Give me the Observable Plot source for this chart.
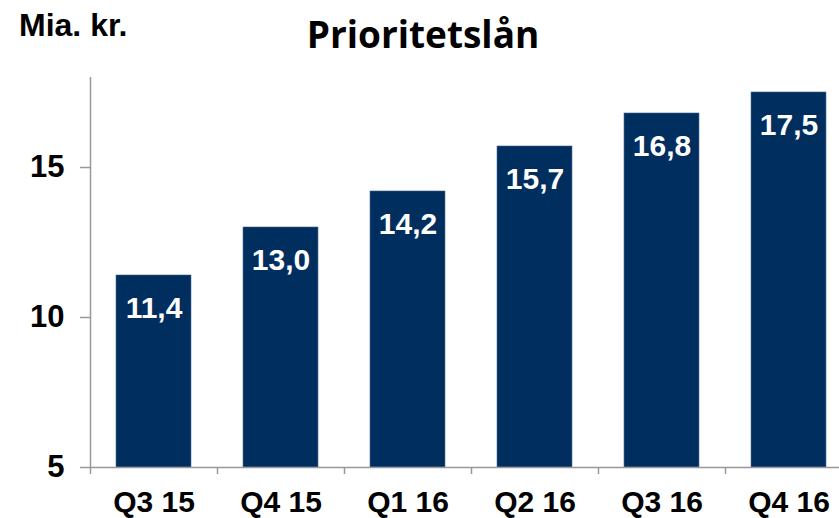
<!DOCTYPE html>
<html>
<head>
<meta charset="utf-8">
<script src="https://cdn.jsdelivr.net/npm/d3@7"></script>
<script src="https://cdn.jsdelivr.net/npm/@observablehq/plot@0.6"></script>
<style>
  html, body { margin: 0; padding: 0; background: #fff; }
  #wrap { position: relative; width: 839px; height: 518px; overflow: hidden; }
  #title { position: absolute; left: 0; width: 846px; top: 15px; text-align: center; line-height: 1;
           font-family: "Open Sans", Lato, sans-serif; font-weight: 700; font-size: 37px; color: #000; }
  #unit { position: absolute; left: 19px; top: 9px; line-height: 1;
          font-family: "Liberation Sans", Arial, sans-serif; font-weight: 700; font-size: 32px; color: #000; }
  svg { display: block; }
</style>
</head>
<body>
<div id="wrap">
  <div id="chart"></div>
  <div id="title">Prioritetslån</div>
  <div id="unit">Mia. kr.</div>
</div>
<script>
const quarters = ["Q3 15", "Q4 15", "Q1 16", "Q2 16", "Q3 16", "Q4 16"];
const values = [11.4, 13.0, 14.2, 15.7, 16.8, 17.5];
const yTicks = [5, 10, 15];

const data = quarters.map((q, i) => ({q, i, v: values[i]}));
const fmt = v => v.toFixed(1).replace(".", ",");
const font = '"Liberation Sans", Arial, sans-serif';
const pad = 0.205;

const chart = Plot.plot({
  width: 839,
  height: 518,
  marginLeft: 90,
  marginRight: 0,
  marginTop: 77,
  marginBottom: 51,
  style: {fontFamily: font, color: "#000", background: "#fff"},
  x: {type: "linear", domain: [0, 6], range: [90, 852], axis: null},
  y: {domain: [5, 18], range: [467, 77], axis: null},
  marks: [
    Plot.rectY(data, {x1: d => d.i + pad, x2: d => d.i + 1 - pad, y1: 5, y2: "v", fill: "#002E5E", stroke: "#3a5f8c", strokeWidth: 0.6}),
    Plot.ruleX([0], {y1: 5, y2: 18, stroke: "#999", strokeWidth: 1.5}),
    Plot.ruleY([5], {stroke: "#999", strokeWidth: 1.5}),
    Plot.axisY({ticks: yTicks, label: null, tickSize: 10, tickPadding: 16, fontSize: 31, fontWeight: "bold", stroke: "#999", strokeWidth: 1.5, tickFormat: d => String(d), color: "#000"}),
    Plot.axisX({ticks: d3.range(0, 7), label: null, tickSize: 7, tickFormat: () => "", stroke: "#999", strokeWidth: 1.5}),
    Plot.axisX({ticks: quarters.map((q, i) => i + 0.5), label: null, tickSize: 0, tickPadding: 23, fontSize: 30, fontWeight: "bold", tickFormat: d => quarters[Math.round(d - 0.5)]}),
    Plot.text(data, {x: d => d.i + 0.5, y: "v", text: d => fmt(d.v), dy: 33, fill: "#fff", fontSize: 30, fontWeight: "bold"})
  ]
});
document.getElementById("chart").append(chart);
</script>
</body>
</html>
